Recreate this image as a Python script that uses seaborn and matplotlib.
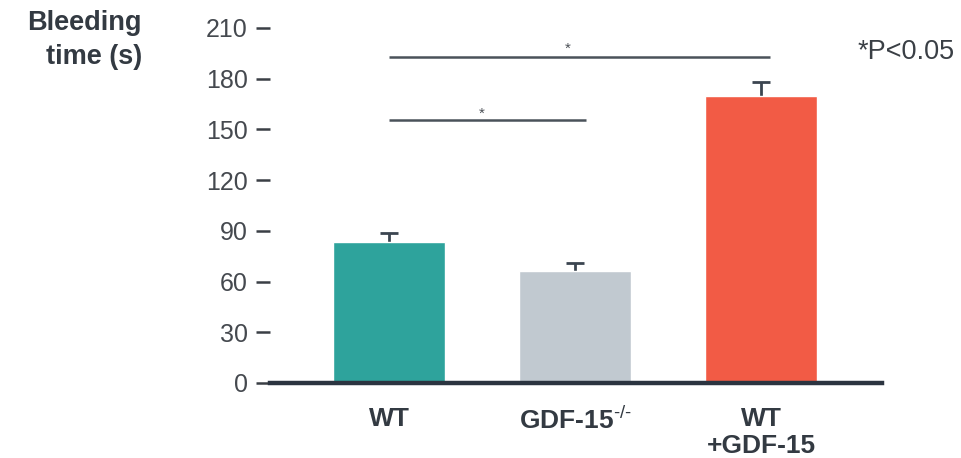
import matplotlib
matplotlib.use("Agg")
import matplotlib.pyplot as plt
import seaborn as sns
import pandas as pd

groups = ["WT", r"GDF-15$^{\text{-/-}}$", "WT\n+GDF-15"]
bleeding_time = [83.5, 66.5, 169.5]
sem_upper = [5.3, 4.3, 8.8]
bar_colors = ["#2ea39c", "#c1c9d0", "#f25b45"]
y_ticks = [0, 30, 60, 90, 120, 150, 180, 210]

# significance brackets: (from group, to group, y level, star x, star y)
sig_pairs = [(0, 2.05, 193.0, 0.96, 197.5), (0, 1.06, 155.5, 0.50, 159.5)]

sns.set_theme(style="white")
plt.rcParams["font.family"] = ["Liberation Sans", "DejaVu Sans"]
plt.rcParams["mathtext.fontset"] = "custom"
plt.rcParams["mathtext.rm"] = "Liberation Sans"
plt.rcParams["mathtext.it"] = "Liberation Sans"
plt.rcParams["mathtext.default"] = "regular"

df = pd.DataFrame({"group": groups, "value": bleeding_time})

fig = plt.figure(figsize=(9.61, 4.58), dpi=100)
ax = fig.add_axes([270 / 961, 75 / 458, 612 / 961, 355 / 458])

sns.barplot(data=df, x="group", y="value", hue="group", palette=bar_colors,
            width=0.6, saturation=1, legend=False, ax=ax, zorder=2)

eb = ax.errorbar(range(len(groups)), bleeding_time,
                 yerr=[[0] * len(groups), sem_upper], fmt="none",
                 ecolor="#3b4550", elinewidth=2, capsize=6.5, capthick=2, zorder=1)
eb[1][0].set_visible(False)

ax.set_xlim(-0.64, 2.65)
ax.set_ylim(0, 210)
ax.set_yticks(y_ticks)
ax.set_xlabel("")
ax.set_ylabel("")

for s in ["top", "right", "left"]:
    ax.spines[s].set_visible(False)
ax.spines["bottom"].set_color("#2b3440")
ax.spines["bottom"].set_linewidth(3.2)
ax.spines["bottom"].set_zorder(3)

ax.tick_params(axis="y", which="major", left=True, length=10, width=1.8,
               color="#3a3f45", pad=6, labelsize=18, labelcolor="#45494f")
ax.tick_params(axis="x", length=0, pad=17, labelsize=19, labelcolor="#333a42")
for lbl in ax.get_xticklabels():
    lbl.set_fontweight("bold")
    lbl.set_linespacing(1.2)

for x0, x1, yl, sx, sy in sig_pairs:
    ax.plot([x0, x1], [yl, yl], color="#4a525a", lw=1.8, solid_capstyle="butt",
            zorder=3, clip_on=False)
    ax.text(sx, sy, "*", ha="center", va="center", fontsize=11, color="#4a4f55",
            clip_on=False)

fig.text(906 / 961, 1 - 52 / 458, "*P<0.05", ha="center", va="center",
         fontsize=19.5, color="#3a3f45")
fig.text(142 / 961, 1 - 40 / 458, "Bleeding\ntime (s)", ha="right", va="center",
         multialignment="right", fontsize=19.5, fontweight="bold",
         color="#333a42", linespacing=1.45)

fig.savefig("out.png", dpi=100)
